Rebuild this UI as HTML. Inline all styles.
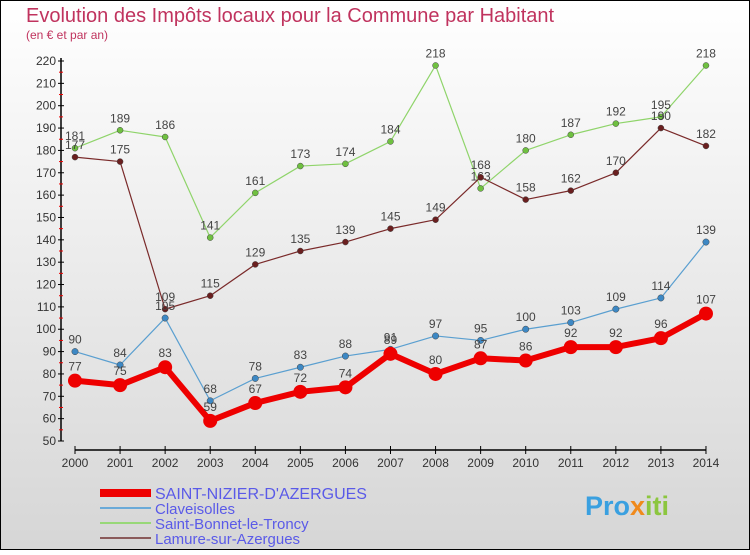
<!DOCTYPE html>
<html><head><meta charset="utf-8"><style>
body{margin:0}
svg text{font-family:"Liberation Sans","DejaVu Sans",sans-serif}
</style></head><body>
<svg id="c" width="750" height="550" xmlns="http://www.w3.org/2000/svg">
<defs><linearGradient id="bg" x1="0" y1="0" x2="0" y2="1"><stop offset="0" stop-color="#ffffff"/><stop offset="1" stop-color="#d6d6d6"/></linearGradient></defs>
<rect x="0.5" y="0.5" width="749" height="549" fill="url(#bg)" stroke="#000"/>
<text x="26" y="22" font-size="20" fill="#c0335e">Evolution des Impôts locaux pour la Commune par Habitant</text>
<text x="26" y="39" font-size="12" fill="#c0335e">(en € et par an)</text>
<g id="axes"></g><g id="series"></g><g id="legend"></g>
<text x="585" y="515" font-size="27" font-weight="bold" fill="#3aa0e0">Pro<tspan fill="#f08a1c">x</tspan><tspan fill="#8cc63f">iti</tspan></text>
</svg>
<script>
const years=[2000,2001,2002,2003,2004,2005,2006,2007,2008,2009,2010,2011,2012,2013,2014];
const yTicks=[50,60,70,80,90,100,110,120,130,140,150,160,170,180,190,200,210,220];
const nizier=[77,75,83,59,67,72,74,89,80,87,86,92,92,96,107];
const claveisolles=[90,84,105,68,78,83,88,91,97,95,100,103,109,114,139];
const bonnet=[181,189,186,141,161,173,174,184,218,163,180,187,192,195,218];
const lamure=[177,175,109,115,129,135,139,145,149,168,158,162,170,190,182];
const names=["SAINT-NIZIER-D'AZERGUES","Claveisolles","Saint-Bonnet-le-Troncy","Lamure-sur-Azergues"];
const NS="http://www.w3.org/2000/svg";
const X=i=>75+i*45.07, Y=v=>441-(v-50)*380/170;
function mk(tag,attrs,parent,text){const e=document.createElementNS(NS,tag);for(const k in attrs)e.setAttribute(k,attrs[k]);if(text!==undefined)e.textContent=text;parent.appendChild(e);return e;}
const ax=document.getElementById('axes');
let a=mk('line',{x1:61,y1:58,x2:61,y2:441,stroke:'#000','stroke-width':1.5},ax);

a=mk('line',{x1:75,y1:450,x2:706,y2:450,stroke:'#000','stroke-width':1.5},ax);

yTicks.forEach((v,i)=>{
 mk('line',{x1:58,y1:Y(v),x2:64,y2:Y(v),stroke:'#000'},ax);
 if(i<yTicks.length-1) mk('line',{x1:59,y1:Y(v+5),x2:63,y2:Y(v+5),stroke:'#e00'},ax);
 const t=mk('text',{x:56,y:Y(v)+4,'font-size':12,'text-anchor':'end',fill:'#333'},ax,v);
 
});
years.forEach((y,i)=>{
 mk('line',{x1:X(i),y1:446,x2:X(i),y2:454,stroke:'#000'},ax);
 const t=mk('text',{x:X(i),y:467,'font-size':12,'text-anchor':'middle',fill:'#333'},ax,y);
 
});
const sg=document.getElementById('series');
const cfg=[[bonnet,'#8fd46a','#6fc040',1.2,3,-8],[lamure,'#7a2a2a','#6a1f1f',1.2,3,-8],[claveisolles,'#5a9fd0','#3d88c4',1.2,3.2,-8],[nizier,'#ee0000','#ee0000',6,7,-10]];
cfg.forEach((c,si)=>{
 const [d,col,fill,w,r,dy]=c;
 const g=mk('g',{},sg);
 const p=mk('polyline',{points:d.map((v,i)=>X(i)+','+Y(v)).join(' '),fill:'none',stroke:col,'stroke-width':w,'stroke-linejoin':'round'},g);
 
 d.forEach((v,i)=>{
  const m=mk('circle',{cx:X(i),cy:Y(v),r:r,fill:fill,stroke:si==3?'none':'#444','stroke-width':0.5},g);
  
  const t=mk('text',{x:X(i),y:Y(v)+dy,'font-size':12,'text-anchor':'middle',fill:'#444'},g,v);
  
 });
});
const lg=document.getElementById('legend');
const lc=[['#ee0000',8],['#6aaad8',2],['#98d878',2],['#8a5a5a',2]];
names.forEach((n,i)=>{
 const y=493+i*15;
 const g=mk('g',{},lg);
 mk('line',{x1:100,y1:y,x2:151,y2:y,stroke:lc[i][0],'stroke-width':lc[i][1]},g);
 mk('text',{x:155,y:y+6,'font-size':i==0?16:15,fill:'#5a5ae8'},g,n);
});
</script>
</body></html>
